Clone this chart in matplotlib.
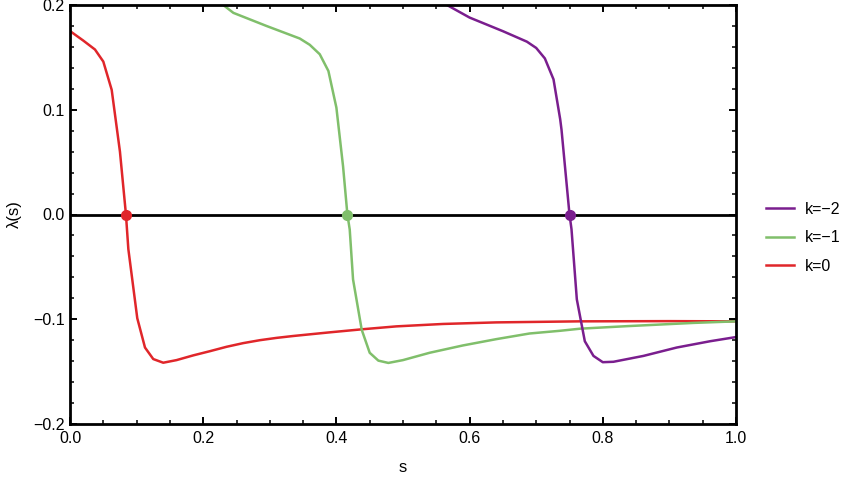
import matplotlib
matplotlib.use("Agg")
import matplotlib.pyplot as plt
from matplotlib.ticker import MultipleLocator
from matplotlib.lines import Line2D

plt.rcParams['font.family'] = ['Liberation Sans', 'DejaVu Sans']

# k = 0 (red)
s_k0 = [0.0, 0.0025, 0.02, 0.0375, 0.05, 0.0626, 0.075, 0.084, 0.0876, 0.101, 0.1126,
        0.125, 0.14, 0.16, 0.185, 0.21, 0.235, 0.26, 0.285, 0.31, 0.335, 0.36, 0.39,
        0.44, 0.49, 0.56, 0.64, 0.766, 0.9, 1.0]
l_k0 = [0.175, 0.174, 0.166, 0.1575, 0.146, 0.119, 0.060, 0.0, -0.033, -0.099, -0.127,
        -0.138, -0.1415, -0.139, -0.1345, -0.1305, -0.1263, -0.1228, -0.1200, -0.1178,
        -0.1160, -0.1144, -0.1125, -0.1095, -0.1068, -0.1045, -0.1030, -0.1020, -0.1018,
        -0.1020]

# k = -1 (green)
s_k1 = [0.22, 0.2453, 0.295, 0.345, 0.36, 0.375, 0.388, 0.40, 0.41, 0.4165, 0.420, 0.425,
        0.438, 0.45, 0.463, 0.478, 0.50, 0.54, 0.59, 0.64, 0.69, 0.736, 0.766, 0.836,
        0.936, 1.0]
l_k1 = [0.205, 0.1925, 0.18, 0.168, 0.162, 0.153, 0.137, 0.102, 0.046, 0.0, -0.0143,
        -0.062, -0.11, -0.132, -0.1395, -0.1417, -0.139, -0.132, -0.125, -0.119, -0.1136,
        -0.111, -0.109, -0.1066, -0.1035, -0.102]

# k = -2 (purple)
s_k2 = [0.55, 0.566, 0.6, 0.65, 0.686, 0.70, 0.713, 0.726, 0.736, 0.738, 0.75, 0.753,
        0.761, 0.773, 0.786, 0.80, 0.816, 0.861, 0.911, 0.961, 1.0]
l_k2 = [0.206, 0.200, 0.188, 0.175, 0.165, 0.159, 0.149, 0.129, 0.091, 0.081, 0.0, -0.014,
        -0.081, -0.121, -0.135, -0.141, -0.1406, -0.135, -0.127, -0.121, -0.117]

zeros_s = [0.0835, 0.4165, 0.75]
labels = ["k=0", "k=\u22121", "k=\u22122"]
colors = ["#e0262a", "#80bf6b", "#7a1e8e"]

fig = plt.figure(figsize=(8.47, 4.78), dpi=100)
ax = fig.add_axes([70/847, 1-424/478, 666/847, 419/478])

ax.axhline(0, color='black', lw=2.0, zorder=1)
series = [(s_k0, l_k0), (s_k1, l_k1), (s_k2, l_k2)]
for (sx, ly), c, z in zip(series, colors, zeros_s):
    ax.plot(sx, ly, color=c, lw=1.8, zorder=2, clip_on=True, solid_joinstyle='round')
    ax.plot([z], [0], 'o', color=c, ms=7, zorder=3)

ax.set_xlim(0, 1)
ax.set_ylim(-0.2, 0.2)
ax.xaxis.set_major_locator(MultipleLocator(0.2))
ax.xaxis.set_minor_locator(MultipleLocator(0.05))
ax.yaxis.set_major_locator(MultipleLocator(0.1))
ax.yaxis.set_minor_locator(MultipleLocator(0.02))
ax.xaxis.set_major_formatter(plt.FuncFormatter(lambda v, p: f"{v:.1f}".replace("-", "\u2212")))
ax.yaxis.set_major_formatter(plt.FuncFormatter(lambda v, p: ("0.0" if abs(v) < 1e-9 else f"{v:.1f}").replace("-", "\u2212")))
ax.tick_params(which='both', direction='in', top=True, right=True, color='black',
               labelsize=11.5)
ax.tick_params(axis='x', pad=5)
ax.tick_params(axis='y', pad=4)
ax.tick_params(which='major', length=5, width=1.4)
ax.tick_params(which='minor', length=3, width=1.1)
for sp in ax.spines.values():
    sp.set_linewidth(2.0)

ax.set_xlabel("s", fontsize=12, labelpad=10)
ax.set_ylabel("\u03bb(s)", fontsize=12, labelpad=8)

handles = [Line2D([0], [0], color=colors[2], lw=1.8),
           Line2D([0], [0], color=colors[1], lw=1.8),
           Line2D([0], [0], color=colors[0], lw=1.8)]
fig.legend(handles, [labels[2], labels[1], labels[0]], loc='center left',
           bbox_to_anchor=(752/847, 1-238/478), frameon=False, fontsize=11.5,
           handlelength=1.7, labelspacing=0.85, handletextpad=0.7)

fig.savefig("out.png", dpi=100)
